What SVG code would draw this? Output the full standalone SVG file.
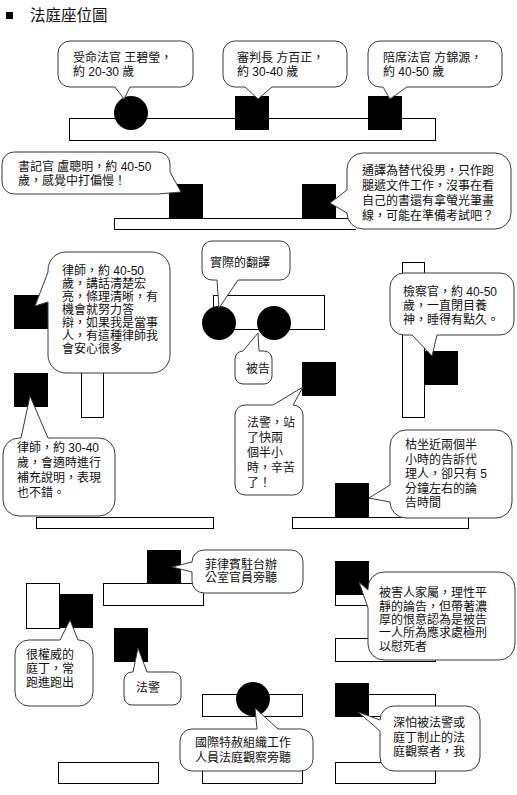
<svg xmlns="http://www.w3.org/2000/svg" width="517" height="795" viewBox="0 0 517 795">
<style>
text{font-family:"Liberation Sans","Noto Sans CJK TC",sans-serif;font-size:12px;fill:#111}
.title{font-size:15.5px}
.f{fill:#fff;stroke:#000;stroke-width:1}
.b{fill:#000}
.c{fill:#fff;stroke:#3a3a3a;stroke-width:1;stroke-linejoin:round}
</style>
<rect x="0" y="0" width="517" height="795" fill="#fff"/>
<g id="title">
<rect x="6" y="12" width="7" height="7" class="b"/>
<text x="30" y="21" class="title">法庭座位圖</text>
</g>
<g id="furniture">
<rect class="f" x="69.5" y="118.5" width="366" height="22"/>
<path class="f" d="M356,218.5 H114.5 V229.5 H356"/>
<rect class="f" x="81.5" y="360.5" width="22" height="57"/>
<rect class="f" x="213.5" y="295.5" width="111" height="34"/>
<rect class="f" x="402.5" y="262.5" width="22" height="155"/>
<rect class="f" x="36.5" y="517.5" width="177" height="11"/>
<rect class="f" x="292.5" y="517.5" width="176" height="11"/>
<rect class="f" x="103.5" y="583.5" width="100" height="22"/>
<rect class="f" x="26.5" y="583.5" width="33" height="45"/>
<rect class="f" x="335.5" y="583.5" width="100" height="22"/>
<rect class="f" x="335.5" y="638.5" width="100" height="23"/>
<rect class="f" x="202.5" y="694.5" width="100" height="22"/>
<rect class="f" x="335.5" y="694.5" width="100" height="22"/>
<rect class="f" x="58.5" y="762.5" width="100" height="21"/>
<rect class="f" x="202.5" y="762.5" width="100" height="21"/>
<rect class="f" x="335.5" y="762.5" width="100" height="21"/>
</g>
<g id="connectors"></g>
<g id="judge1">
<circle class="b" cx="131" cy="113" r="17"/>
<path class="c" d="M70,41 H181 A12,12 0 0 1 193,53 V75 A12,12 0 0 1 181,87 H130 L124,99 L115,87 H70 A12,12 0 0 1 58,75 V53 A12,12 0 0 1 70,41 Z"/>
<text x="73" y="62">受命法官 王碧瑩，</text>
<text x="73" y="76">約 20-30 歲</text>
</g>
<g id="presiding">
<rect class="b" x="235" y="96" width="34" height="34"/>
<path class="c" d="M235,41 H335 A12,12 0 0 1 347,53 V75 A12,12 0 0 1 335,87 H272 L258,99 L245,87 H235 A12,12 0 0 1 223,75 V53 A12,12 0 0 1 235,41 Z"/>
<text x="237" y="62">審判長 方百正，</text>
<text x="237" y="76">約 30-40 歲</text>
</g>
<g id="judge2">
<rect class="b" x="368" y="96" width="34" height="34"/>
<path class="c" d="M380,41 H490 A12,12 0 0 1 502,53 V75 A12,12 0 0 1 490,87 H407 L390,99 L383,87 H380 A12,12 0 0 1 368,75 V53 A12,12 0 0 1 380,41 Z"/>
<text x="383" y="62">陪席法官 方錦源，</text>
<text x="383" y="76">約 40-50 歲</text>
</g>
<g id="clerk">
<rect class="b" x="169" y="184" width="34" height="34"/>
<path class="c" d="M14,152 H158 A12,12 0 0 1 170,164 V172 L181,192 L158,194 H14 A12,12 0 0 1 2,182 V164 A12,12 0 0 1 14,152 Z"/>
<text x="18" y="171">書記官 盧聰明，約 40-50</text>
<text x="18" y="185">歲，感覺中打偏慢！</text>
</g>
<g id="interpreter">
<rect class="b" x="302" y="184" width="34" height="34"/>
<path class="c" d="M363,153 H495 A16,16 0 0 1 511,169 V213 A16,16 0 0 1 495,229 H363 A16,16 0 0 1 347,213 L330,203 L347,190 V169 A16,16 0 0 1 363,153 Z"/>
<text x="362" y="175">通譯為替代役男，只作跑</text>
<text x="362" y="190">腿遞文件工作，沒事在看</text>
<text x="362" y="205">自己的書還有拿螢光筆畫</text>
<text x="362" y="220">線，可能在準備考試吧？</text>
</g>
<g id="lawyer1">
<rect class="b" x="14" y="295" width="34" height="34"/>
<path class="c" d="M66,252 H152 A18,18 0 0 1 170,270 V355 A18,18 0 0 1 152,373 H66 A18,18 0 0 1 48,355 V302 L35,306 L48,272 V270 A18,18 0 0 1 66,252 Z"/>
<text x="62" y="275">律師，約 40-50</text>
<text x="62" y="288">歲，講話清楚宏</text>
<text x="62" y="301">亮，條理清晰，有</text>
<text x="62" y="314">機會就努力答</text>
<text x="62" y="327">辯，如果我是當事</text>
<text x="62" y="340">人，有這種律師我</text>
<text x="62" y="353">會安心很多</text>
</g>
<g id="lawyer2">
<rect class="b" x="14" y="373" width="34" height="34"/>
<path class="c" d="M19,438 H21 L30,396 L48,438 H99 A16,16 0 0 1 115,454 V500 A16,16 0 0 1 99,516 H19 A16,16 0 0 1 3,500 V454 A16,16 0 0 1 19,438 Z"/>
<text x="17" y="452">律師，約 30-40</text>
<text x="17" y="467">歲，會適時進行</text>
<text x="17" y="482">補充說明，表現</text>
<text x="17" y="497">也不錯。</text>
</g>
<g id="real-interpreter">
<circle class="b" cx="219" cy="323" r="17"/>
<path class="c" d="M212,241 H280 A10,10 0 0 1 290,251 V270 A10,10 0 0 1 280,280 H238 L219,308 L217,280 H212 A10,10 0 0 1 202,270 V251 A10,10 0 0 1 212,241 Z"/>
<text x="210" y="267">實際的翻譯</text>
</g>
<g id="defendant">
<circle class="b" cx="274" cy="323" r="17"/>
<path class="c" d="M243,351 L258,333 L259,351 H264 A8,8 0 0 1 272,359 V376 A8,8 0 0 1 264,384 H243 A8,8 0 0 1 235,376 V359 A8,8 0 0 1 243,351 Z"/>
<text x="246" y="373">被告</text>
</g>
<g id="bailiff1">
<rect class="b" x="302" y="362" width="34" height="34"/>
<path class="c" d="M245,405 H273 L303,387 L293,405 A10,10 0 0 1 303,415 V485 A10,10 0 0 1 293,495 H245 A10,10 0 0 1 235,485 V415 A10,10 0 0 1 245,405 Z"/>
<text x="247" y="427">法警，站</text>
<text x="247" y="442">了快兩</text>
<text x="247" y="457">個半小</text>
<text x="247" y="472">時，辛苦</text>
<text x="247" y="487">了！</text>
</g>
<g id="prosecutor">
<rect class="b" x="424" y="351" width="34" height="34"/>
<path class="c" d="M404,273 H500 A14,14 0 0 1 514,287 V321 A14,14 0 0 1 500,335 H437 L432,356 L412,335 H404 A14,14 0 0 1 390,321 V287 A14,14 0 0 1 404,273 Z"/>
<text x="403" y="296">檢察官，約 40-50</text>
<text x="403" y="310">歲，一直閉目養</text>
<text x="403" y="324">神，睡得有點久。</text>
</g>
<g id="victim-attorney">
<rect class="b" x="335" y="483" width="34" height="34"/>
<path class="c" d="M406,430 H496 A16,16 0 0 1 512,446 V502 A16,16 0 0 1 496,518 H406 A16,16 0 0 1 390,502 L369,498 L390,485 V446 A16,16 0 0 1 406,430 Z"/>
<text x="405" y="449">枯坐近兩個半</text>
<text x="405" y="464">小時的告訴代</text>
<text x="405" y="478">理人，卻只有 5</text>
<text x="405" y="493">分鐘左右的論</text>
<text x="405" y="507">告時間</text>
</g>
<g id="philippine-official">
<rect class="b" x="147" y="550" width="34" height="34"/>
<path class="c" d="M204,550 H291 A12,12 0 0 1 303,562 V581 A12,12 0 0 1 291,593 H204 A12,12 0 0 1 192,581 V572 L172,567 L192,562 A12,12 0 0 1 204,550 Z"/>
<text x="205" y="569">菲律賓駐台辦</text>
<text x="205" y="582">公室官員旁聽</text>
</g>
<g id="usher">
<rect class="b" x="59" y="594" width="34" height="34"/>
<path class="c" d="M29,640 H60 L70,620 L78,640 H79 A14,14 0 0 1 93,654 V692 A14,14 0 0 1 79,706 H29 A14,14 0 0 1 15,692 V654 A14,14 0 0 1 29,640 Z"/>
<text x="26" y="659">很權威的</text>
<text x="26" y="673">庭丁，常</text>
<text x="26" y="687">跑進跑出</text>
</g>
<g id="bailiff2">
<rect class="b" x="114" y="628" width="34" height="34"/>
<path class="c" d="M132,672 H133 L138,648 L147,672 H173 A8,8 0 0 1 181,680 V697 A8,8 0 0 1 173,705 H132 A8,8 0 0 1 124,697 V680 A8,8 0 0 1 132,672 Z"/>
<text x="136" y="692">法警</text>
</g>
<g id="victim-family">
<rect class="b" x="335" y="561" width="34" height="34"/>
<path class="c" d="M384,572 H499 A16,16 0 0 1 515,588 V644 A16,16 0 0 1 499,660 H384 A16,16 0 0 1 368,644 V608 L359,582 L368,590 V588 A16,16 0 0 1 384,572 Z"/>
<text x="379" y="597">被害人家屬，理性平</text>
<text x="379" y="611">靜的論告，但帶著濃</text>
<text x="379" y="624">厚的恨意認為是被告</text>
<text x="379" y="637">一人所為應求處極刑</text>
<text x="379" y="651">以慰死者</text>
</g>
<g id="amnesty">
<circle class="b" cx="253" cy="699" r="17"/>
<path class="c" d="M192,729 H257 L255,708 L278,729 H301 A12,12 0 0 1 313,741 V759 A12,12 0 0 1 301,771 H192 A12,12 0 0 1 180,759 V741 A12,12 0 0 1 192,729 Z"/>
<text x="195" y="747">國際特赦組織工作</text>
<text x="195" y="762">人員法庭觀察旁聽</text>
</g>
<g id="observer">
<rect class="b" x="335" y="683" width="34" height="34"/>
<path class="c" d="M394,706 H466 A14,14 0 0 1 480,720 V757 A14,14 0 0 1 466,771 H394 A14,14 0 0 1 380,757 V731 L358,712 L380,720 A14,14 0 0 1 394,706 Z"/>
<text x="393" y="727">深怕被法警或</text>
<text x="393" y="742">庭丁制止的法</text>
<text x="393" y="756">庭觀察者，我</text>
</g>
</svg>
